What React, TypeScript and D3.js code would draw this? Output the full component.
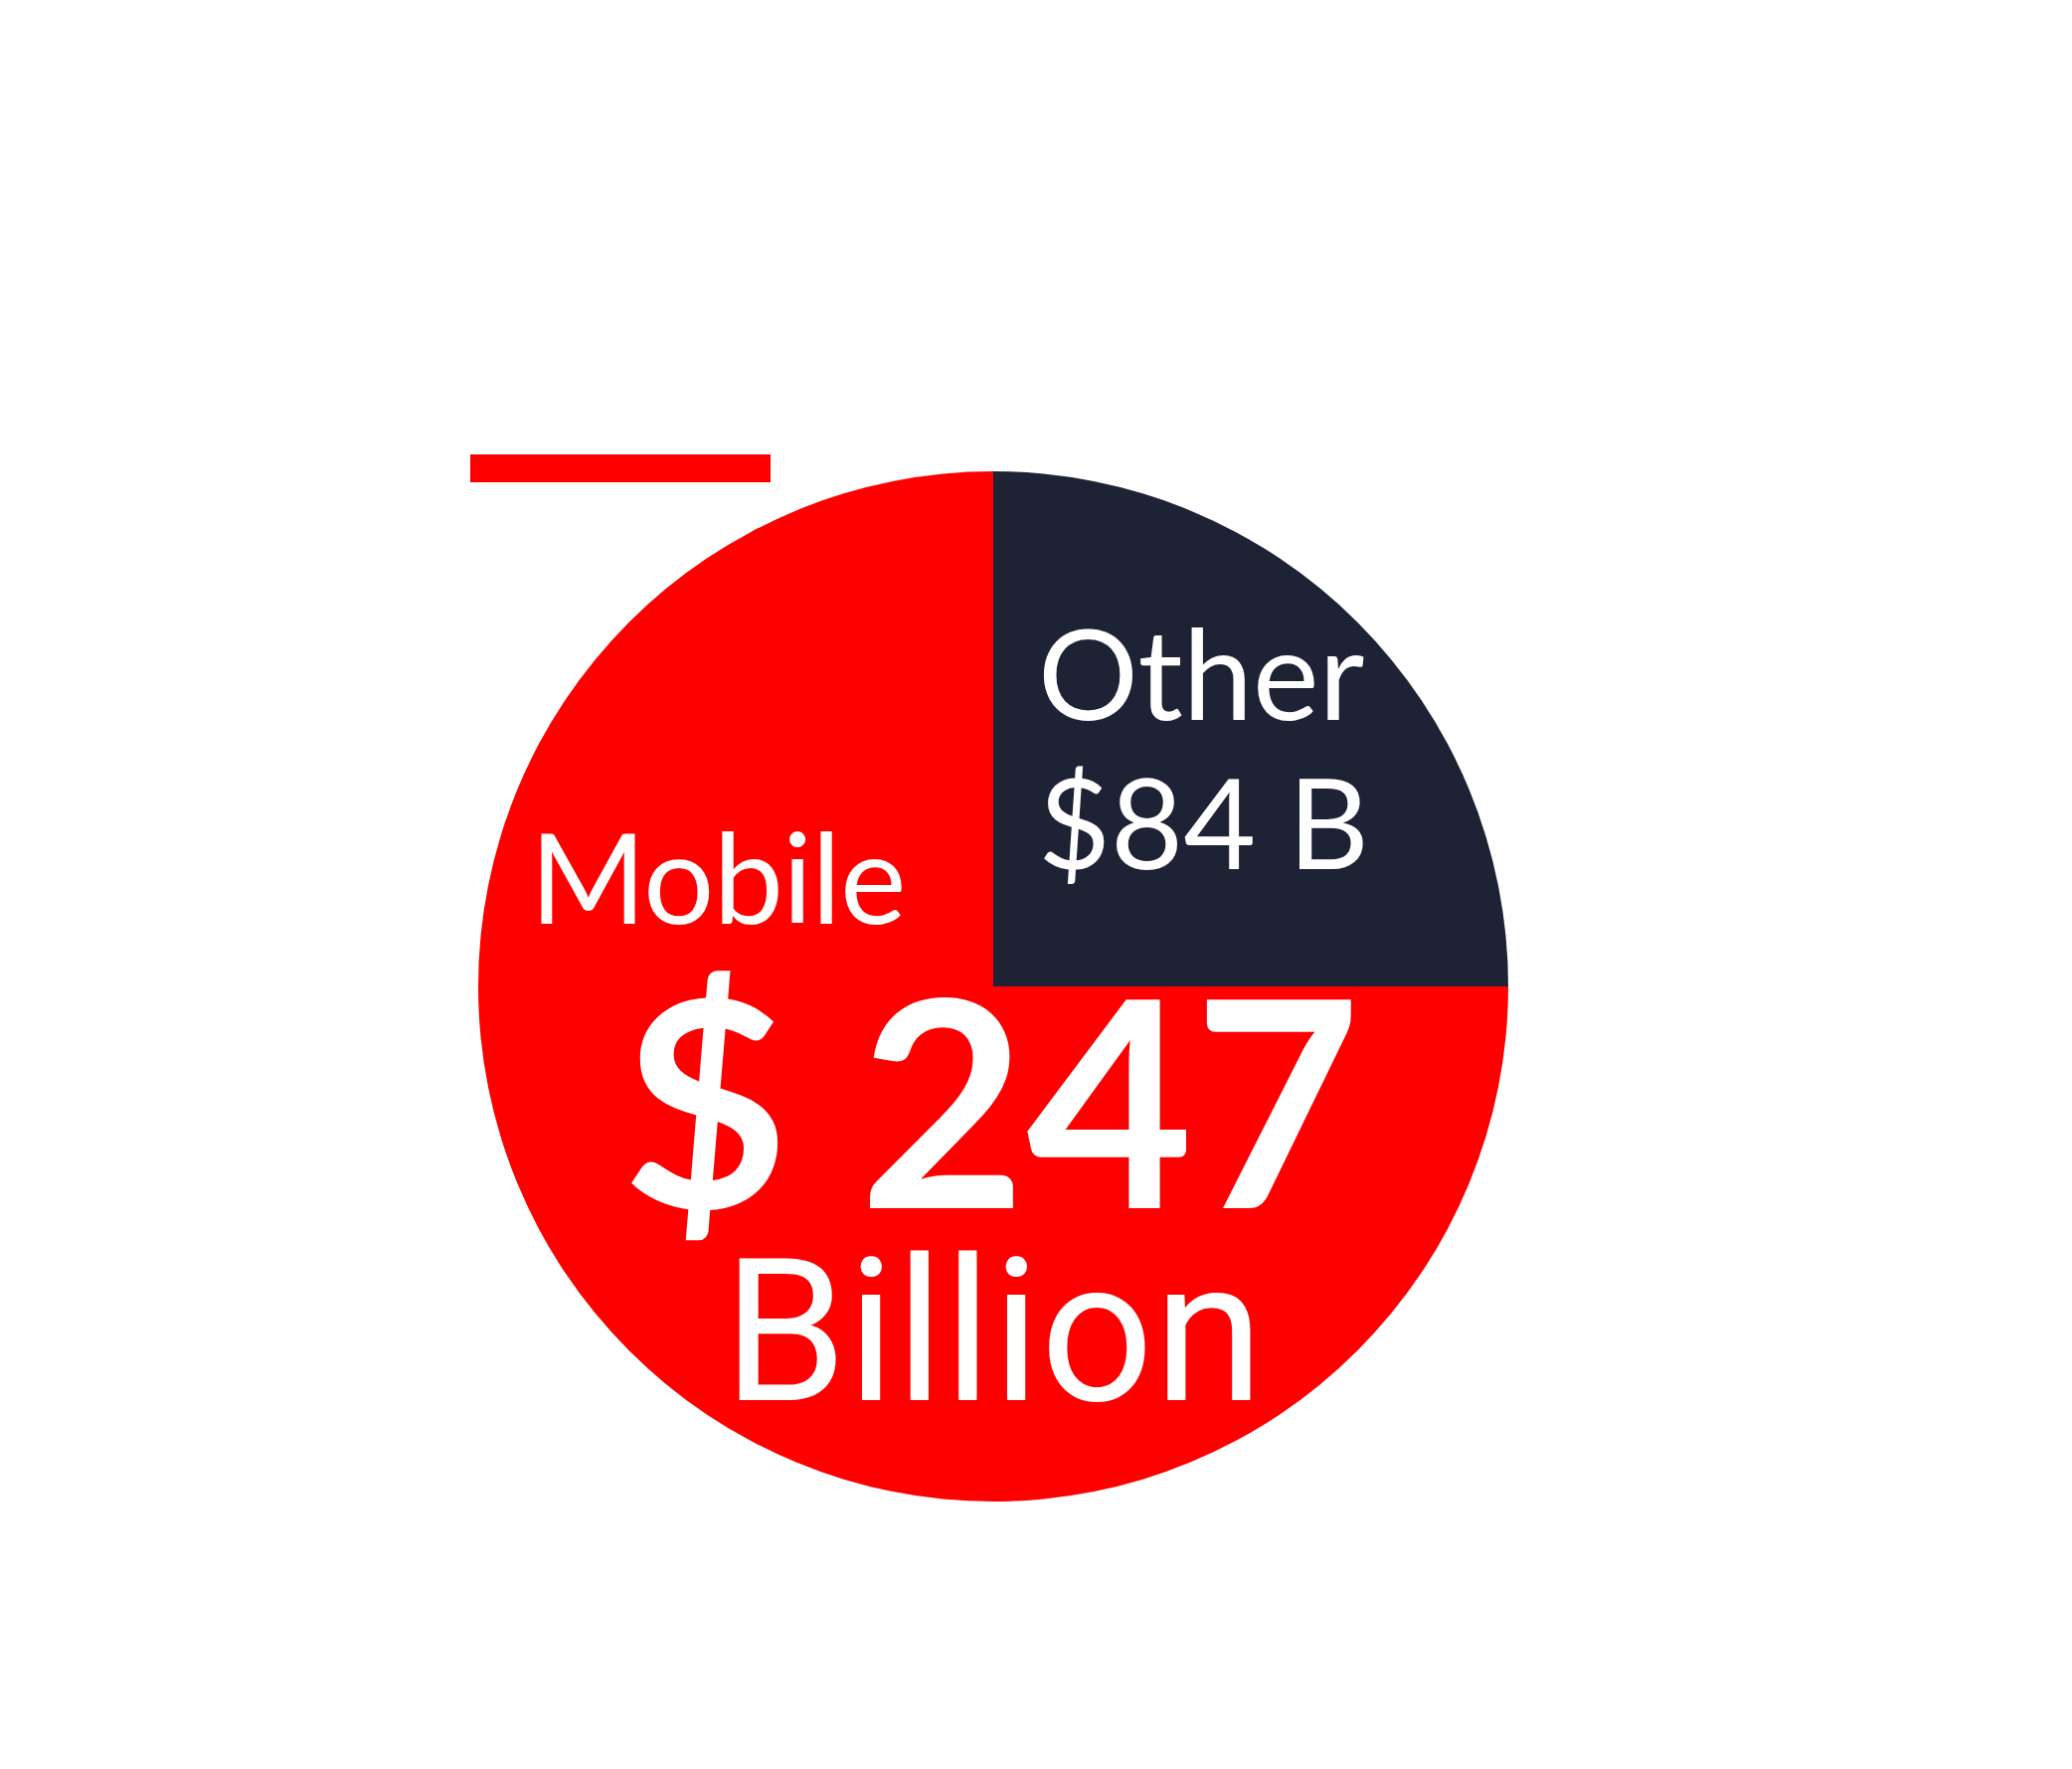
import React from 'react';
import * as d3 from 'd3';

// Share of the pie (percent)
const segments = ['Other', 'Mobile'];
const shares = [25, 75];
const segmentColors = ['#1E2235', '#FF0000'];

// Label texts (billions of dollars)
const otherLines = ['Other', '$84 B'];
const mobileLabel = 'Mobile';
const mobileValue = '$ 247';
const mobileUnit = 'Billion';

const width = 2084;
const height = 1779;
const cx = 999;
const cy = 992;
const radius = 518;

const App: React.FC = () => {
    const pie = d3.pie<number>().value(d => d).sort(null).startAngle(0).endAngle(2 * Math.PI);
    const arc = d3.arc<d3.PieArcDatum<number>>().innerRadius(0).outerRadius(radius);
    const arcs = pie(shares);

    return (
        <>
            <style>{'body{margin:0}'}</style>
            <svg width={width} height={height} style={{ display: 'block', background: '#ffffff' }}>
                {/* accent bar */}
                <rect x={473} y={457} width={302} height={28} fill="#FF0000" />

                <g transform={`translate(${cx},${cy})`}>
                    {arcs.map((d, i) => (
                        <path key={segments[i]} d={arc(d) ?? ''} fill={segmentColors[i]} />
                    ))}
                </g>

                {otherLines.map((t, i) => (
                    <text
                        key={t}
                        x={cx + 45}
                        y={cy - 268 + i * 150}
                        fill="#ffffff"
                        style={{ fontFamily: 'Lato', fontSize: 126 }}
                    >
                        {t}
                    </text>
                ))}

                <text
                    x={cx - 466}
                    y={cy - 63}
                    fill="#ffffff"
                    style={{ fontFamily: 'Lato', fontSize: 126, letterSpacing: -1 }}
                >
                    {mobileLabel}
                </text>

                <text
                    x={cx - 2}
                    y={cy + 223}
                    textAnchor="middle"
                    fill="#ffffff"
                    style={{ fontFamily: 'Lato', fontWeight: 'bold', fontSize: 290 }}
                >
                    {mobileValue}
                </text>

                <text
                    x={cx}
                    y={cy + 416}
                    textAnchor="middle"
                    fill="#ffffff"
                    style={{ fontFamily: 'Roboto', fontSize: 200 }}
                >
                    {mobileUnit}
                </text>
            </svg>
        </>
    );
};

export default App;
